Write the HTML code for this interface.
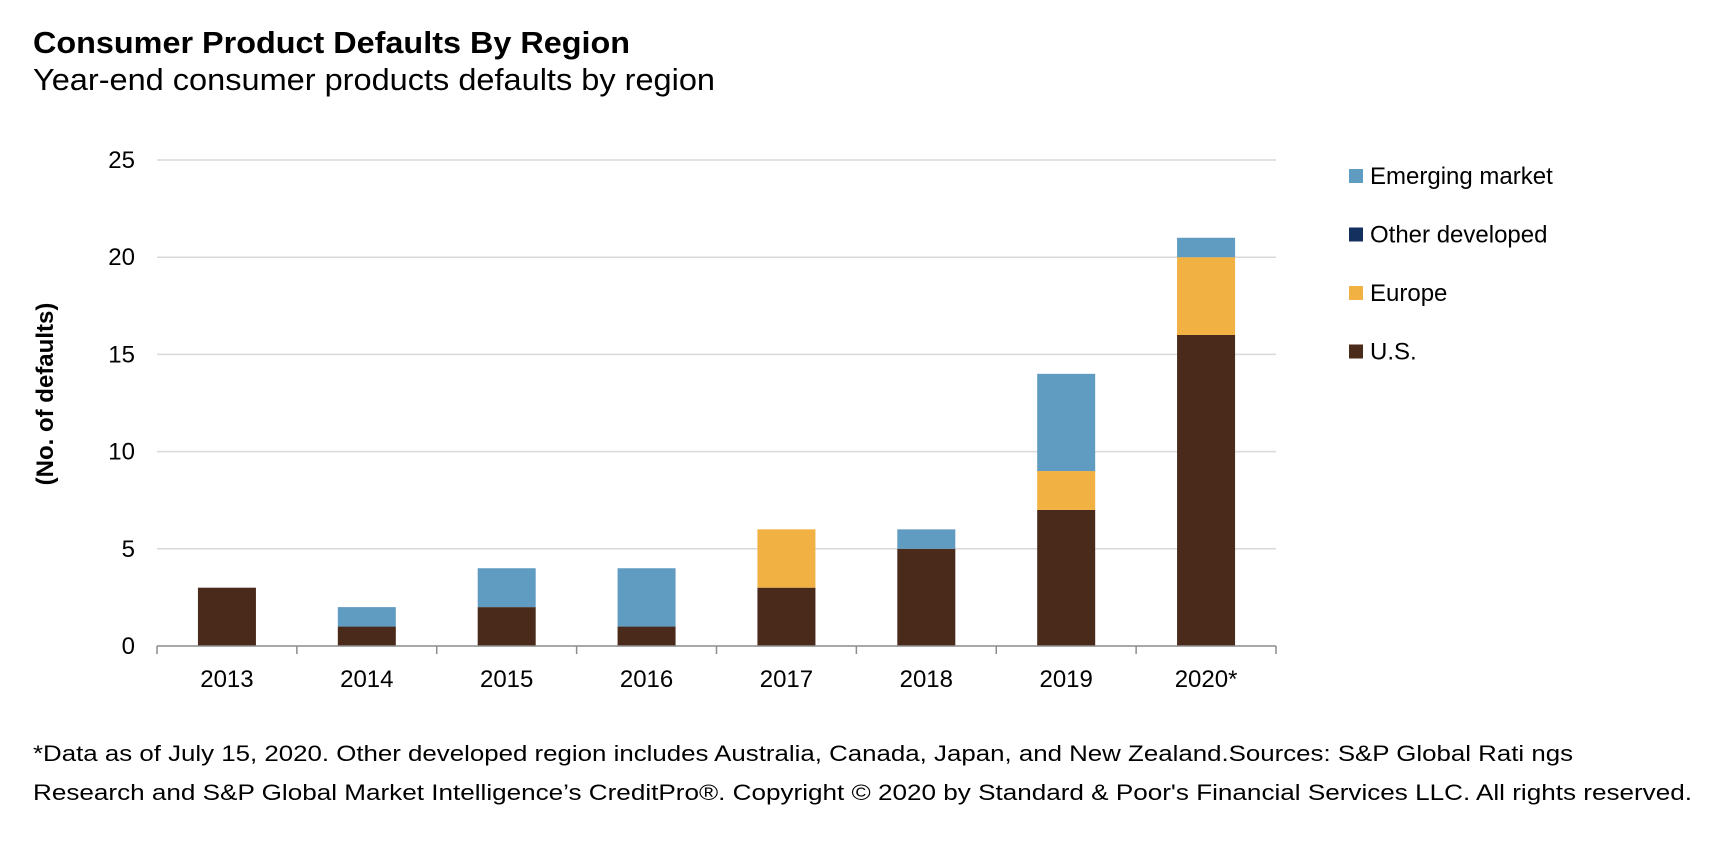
<!DOCTYPE html>
<html><head><meta charset="utf-8"><style>
html,body{margin:0;padding:0;background:#fff}
svg{display:block;font-family:"Liberation Sans",Arial,sans-serif}
</style></head><body>
<svg id="chart" width="1726" height="856" viewBox="0 0 1726 856">
<text x="33" y="53" font-size="31" font-weight="bold" textLength="597" lengthAdjust="spacingAndGlyphs">Consumer Product Defaults By Region</text>
<text x="33" y="90" font-size="31" textLength="682" lengthAdjust="spacingAndGlyphs">Year-end consumer products defaults by region</text>
<g id="grid"></g><g id="bars"></g><g id="axes"></g>
<text transform="translate(53,394) rotate(-90)" text-anchor="middle" font-size="24" font-weight="bold">(No. of defaults)</text>
<g id="legend"></g>
<text x="33" y="761" font-size="22" textLength="1540" lengthAdjust="spacingAndGlyphs">*Data as of July 15, 2020. Other developed region includes Australia, Canada, Japan, and New Zealand.Sources: S&amp;P Global Rati ngs</text>
<text x="33" y="800" font-size="22" textLength="1659" lengthAdjust="spacingAndGlyphs">Research and S&amp;P Global Market Intelligence’s CreditPro®.  Copyright © 2020 by Standard &amp; Poor's Financial Services LLC. All  rights reserved.</text>
</svg>
<script>
const categories=["2013","2014","2015","2016","2017","2018","2019","2020*"];
const us=[3,1,2,1,3,5,7,16];
const europe=[0,0,0,0,3,0,2,4];
const otherDeveloped=[0,0,0,0,0,0,0,0];
const emerging=[0,1,2,3,0,1,5,1];
const yTicks=[0,5,10,15,20,25];
const seriesNames=["U.S.","Europe","Other developed","Emerging market"];
const colors=["#4a2a1b","#f2b143","#13305e","#609bc1"];
const series=[us,europe,otherDeveloped,emerging];
const NS="http://www.w3.org/2000/svg";
const L=157,R=1276,T=160,B=646,yMax=25;
const y=v=>B-(v/yMax)*(B-T);
const band=(R-L)/categories.length;
const x=i=>L+band*i;
const bw=58;
function mk(tag,attrs,parent){const e=document.createElementNS(NS,tag);for(const k in attrs)e.setAttribute(k,attrs[k]);parent.appendChild(e);return e;}
const grid=document.getElementById('grid'),bars=document.getElementById('bars'),axes=document.getElementById('axes'),legend=document.getElementById('legend');
yTicks.forEach(t=>{
  if(t>0){const g=mk('line',{x1:L,x2:R,y1:y(t),y2:y(t),stroke:'#d9d9d9','stroke-width':1.5},grid);
  
  }
  const lb=mk('text',{x:135,y:y(t)+8,'text-anchor':'end','font-size':24},axes);lb.textContent=t;
  
  
});
categories.forEach((c,i)=>{
  let acc=0;
  series.forEach((s,k)=>{
    const v=s[i];if(v<=0)return;
    const r=mk('rect',{x:x(i)+band/2-bw/2,y:y(acc+v),width:bw,height:y(acc)-y(acc+v),fill:colors[k]},bars);
    
    
    acc+=v;
  });
  const lb=mk('text',{x:x(i)+band/2,y:687,'text-anchor':'middle','font-size':24},axes);lb.textContent=c;
  
  
});
const ax=mk('line',{x1:L,x2:R,y1:B,y2:B,stroke:'#8c8c8c','stroke-width':1.5},axes);


for(let i=0;i<=categories.length;i++){const tk=mk('line',{x1:x(i),x2:x(i),y1:B,y2:B+8,stroke:'#8c8c8c','stroke-width':1.5},axes);

}
const legendOrder=[3,2,1,0];
legendOrder.forEach((k,j)=>{
  const yy=176+j*58.5;
  const g=mk('g',{},legend);
  
  
  mk('rect',{x:1349,y:yy-7,width:14,height:14,fill:colors[k]},g);
  const t=mk('text',{x:1370,y:yy+8,'font-size':24},g);t.textContent=seriesNames[k];
});
</script>
</body></html>
